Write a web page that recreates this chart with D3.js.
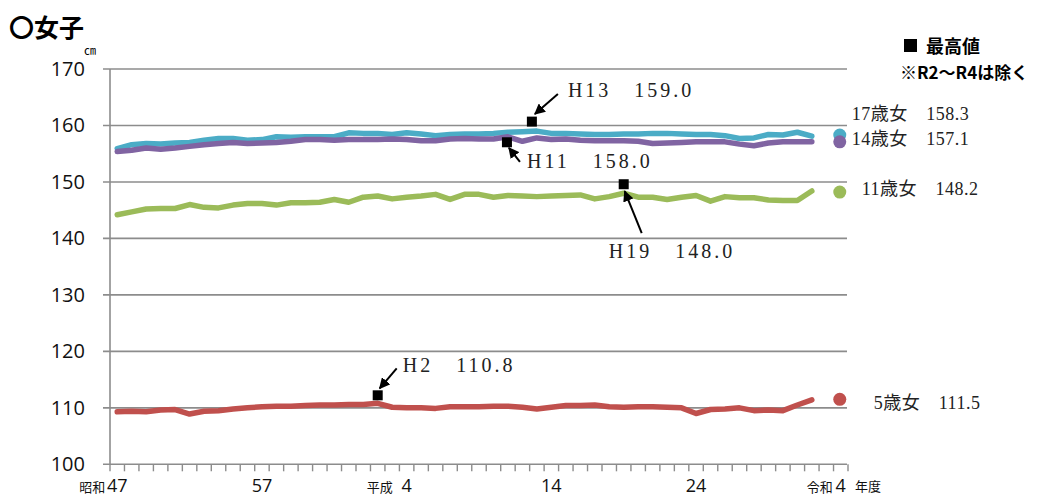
<!DOCTYPE html>
<html>
<head>
<meta charset="utf-8">
<script src="https://cdn.jsdelivr.net/npm/d3@7"></script>
<style>
  body { margin: 0; background: #fff; }
  svg { display: block; }
</style>
</head>
<body>
<svg id="chart" width="1038" height="499"></svg>
<script>
// fiscal years on the category axis (S47 .. R4)
const years = [1972,1973,1974,1975,1976,1977,1978,1979,1980,1981,
               1982,1983,1984,1985,1986,1987,1988,1989,1990,1991,
               1992,1993,1994,1995,1996,1997,1998,1999,2000,2001,
               2002,2003,2004,2005,2006,2007,2008,2009,2010,2011,
               2012,2013,2014,2015,2016,2017,2018,2019,2020,2021,2022];

// line data, S47 (1972) .. R2 (2020)
const girls17 = [155.9,156.6,156.8,156.7,156.9,157.0,157.4,157.7,157.7,157.4,
                 157.5,158.0,157.9,158.0,158.0,158.0,158.7,158.6,158.6,158.4,
                 158.7,158.5,158.2,158.4,158.5,158.5,158.6,158.8,158.9,159.0,
                 158.6,158.6,158.5,158.4,158.4,158.5,158.5,158.6,158.6,158.5,
                 158.4,158.4,158.2,157.7,157.8,158.4,158.3,158.8,158.1];
const girls14 = [155.4,155.6,156.0,155.8,156.0,156.3,156.6,156.8,157.0,156.8,
                 156.9,157.0,157.2,157.5,157.5,157.4,157.5,157.5,157.5,157.6,
                 157.5,157.3,157.3,157.6,157.7,157.6,157.6,158.0,157.2,157.8,
                 157.5,157.6,157.4,157.3,157.3,157.3,157.2,156.8,156.9,157.0,
                 157.1,157.1,157.1,156.7,156.4,156.9,157.1,157.1,157.1];
const girls11 = [144.2,144.7,145.2,145.3,145.3,146.0,145.5,145.4,145.9,146.2,
                 146.2,145.9,146.3,146.3,146.4,146.9,146.4,147.3,147.5,147.0,
                 147.3,147.5,147.8,146.9,147.8,147.8,147.3,147.6,147.5,147.4,
                 147.5,147.6,147.7,147.0,147.4,148.0,147.3,147.3,146.9,147.3,
                 147.6,146.6,147.4,147.2,147.2,146.8,146.7,146.7,148.4];
const girls5  = [109.3,109.4,109.3,109.6,109.7,108.9,109.4,109.5,109.8,110.0,
                 110.2,110.3,110.3,110.4,110.5,110.5,110.6,110.6,110.8,110.1,
                 110.0,110.0,109.9,110.2,110.2,110.2,110.3,110.3,110.1,109.8,
                 110.1,110.4,110.4,110.5,110.2,110.1,110.2,110.2,110.1,110.0,
                 109.0,109.7,109.8,110.0,109.5,109.6,109.5,110.5,111.4];

// R4 (2022) values shown as dots
const latestYear = 2022;
const latest = [158.3, 157.1, 148.2, 111.5];

const seriesNames = ['17歳女', '14歳女', '11歳女', '5歳女'];
const seriesColors = ['#4bacc6', '#8064a2', '#9bbb59', '#c0504d'];
const seriesData = [girls17, girls14, girls11, girls5];

const yTicks = [100, 110, 120, 130, 140, 150, 160, 170];
const xTickLabels = [
  {year: 1972, era: '昭和', num: '47'},
  {year: 1982, era: '',     num: '57'},
  {year: 1992, era: '平成', num: '4'},
  {year: 2002, era: '',     num: '14'},
  {year: 2012, era: '',     num: '24'},
  {year: 2022, era: '令和', num: '4'}
];

// highest values (series index, year, label)
const peaks = [
  {s: 0, year: 2001, label: 'H13　159.0'},
  {s: 1, year: 1999, label: 'H11　158.0'},
  {s: 2, year: 2007, label: 'H19　148.0'},
  {s: 3, year: 1990, label: 'H2　110.8'}
];

// ---------------------------------------------------------------
const svg = d3.select('#chart');
const plotL = 110, plotR = 848, plotT = 69, plotB = 464.3;

const x = d3.scaleBand().domain(years).range([plotL, plotR]).padding(0);
const xc = yr => x(yr) + x.bandwidth() / 2;
const y = d3.scaleLinear().domain([100, 170]).range([plotB, plotT]);
const grey = '#8c8c8c';

// grid
svg.append('g').selectAll('line').data(yTicks).join('line')
  .attr('x1', plotL - 7).attr('x2', plotR - 1)
  .attr('y1', d => y(d)).attr('y2', d => y(d))
  .attr('stroke', grey).attr('stroke-width', 1.6);

svg.append('line')
  .attr('x1', plotL).attr('x2', plotL).attr('y1', plotT).attr('y2', plotB)
  .attr('stroke', grey).attr('stroke-width', 1.6);

// y labels
svg.append('g').selectAll('text').data(yTicks).join('text')
  .attr('x', 85).attr('y', d => y(d) + 7)
  .attr('text-anchor', 'end')
  .style('font-family', '"Open Sans", sans-serif')
  .style('font-size', '20px').attr('fill', '#111')
  .text(d => d);

// x ticks at category boundaries
const bounds = years.map(d => x(d)).concat([plotR]);
svg.append('g').selectAll('line').data(bounds).join('line')
  .attr('x1', d => d).attr('x2', d => d)
  .attr('y1', plotB).attr('y2', plotB + 7)
  .attr('stroke', grey).attr('stroke-width', 1.4);

// x labels (kept just inside the bottom edge)
const xl = svg.append('g');
xTickLabels.forEach(t => {
  xl.append('text')
    .attr('x', xc(t.year)).attr('y', 492)
    .attr('text-anchor', 'middle')
    .style('font-family', '"Open Sans", sans-serif')
    .style('font-size', '18px').attr('fill', '#111')
    .text(t.num);
  if (t.era) {
    xl.append('text')
      .attr('x', xc(t.year) - (t.num.length > 1 ? 12 : 8) - (t.era === '平成' ? 6 : 0))
      .attr('y', 492)
      .attr('text-anchor', 'end')
      .style('font-family', '"Noto Sans CJK JP", sans-serif')
      .style('font-size', '13px').attr('fill', '#111')
      .text(t.era);
  }
});
xl.append('text')
  .attr('x', plotR + 7).attr('y', 491)
  .style('font-family', '"Noto Sans CJK JP", sans-serif')
  .style('font-size', '13px').attr('fill', '#111')
  .text('年度');

// lines
const lineYears = years.slice(0, girls17.length);
const line = d3.line().x((d, i) => xc(lineYears[i])).y(d => y(d));
svg.append('g').selectAll('path').data(seriesData).join('path')
  .attr('d', d => line(d))
  .attr('fill', 'none')
  .attr('stroke', (d, i) => seriesColors[i])
  .attr('stroke-width', 5.5)
  .attr('stroke-linejoin', 'round')
  .attr('stroke-linecap', 'round');

// R4 dots
svg.append('g').selectAll('circle').data(latest).join('circle')
  .attr('cx', xc(latestYear) - 1)
  .attr('cy', d => y(d))
  .attr('r', 6.5)
  .attr('fill', (d, i) => seriesColors[i]);

// right labels
const rightLabelOffset = [[11, -15], [11, 3], [21, 3], [33, 10]];
svg.append('g').selectAll('text').data(latest).join('text')
  .attr('x', (d, i) => xc(latestYear) + rightLabelOffset[i][0])
  .attr('y', (d, i) => y(d) + rightLabelOffset[i][1])
  .attr('xml:space', 'preserve')
  .style('font-family', '"Liberation Serif", "Noto Sans CJK JP", serif')
  .style('font-size', '18px').style('letter-spacing', '0.5px').attr('fill', '#222')
  .text((d, i) => `${seriesNames[i]}　${d.toFixed(1)}`);

// peak markers + arrows
const defs = svg.append('defs');
defs.append('marker').attr('id', 'ah')
  .attr('viewBox', '0 0 10 10').attr('refX', 9).attr('refY', 5)
  .attr('markerWidth', 5.5).attr('markerHeight', 5.5)
  .attr('orient', 'auto')
  .append('path').attr('d', 'M0,0 L10,5 L0,10 Z').attr('fill', '#000');

// offsets from the data point: marker, arrow tail, arrow tip, label
const peakLayout = [
  {m: [-5, -9.5], a0: [21, -37], a1: [-2, -17], t: [31, -34]},
  {m: [-1, 5.5],  a0: [12, 25],  a1: [1, 11],   t: [19, 31]},
  {m: [0, -9],    a0: [18, 40],  a1: [1, -2],   t: [-15, 65]},
  {m: [0, -8],    a0: [19, -35], a1: [2, -15],  t: [25, -31]}
];
const pg = svg.append('g');
peaks.forEach((p, k) => {
  const px = xc(p.year), py = y(seriesData[p.s][years.indexOf(p.year)]);
  const L = peakLayout[k];
  pg.append('rect')
    .attr('x', px + L.m[0] - 5).attr('y', py + L.m[1] - 5)
    .attr('width', 10).attr('height', 10).attr('fill', '#000');
  pg.append('line')
    .attr('x1', px + L.a0[0]).attr('y1', py + L.a0[1])
    .attr('x2', px + L.a1[0]).attr('y2', py + L.a1[1])
    .attr('stroke', '#000').attr('stroke-width', 2)
    .attr('marker-end', 'url(#ah)');
  pg.append('text')
    .attr('x', px + L.t[0]).attr('y', py + L.t[1])
    .attr('xml:space', 'preserve')
    .style('font-family', '"Liberation Serif", serif')
    .style('font-size', '20px').style('letter-spacing', '3px')
    .attr('fill', '#222')
    .text(p.label);
});

// title, unit, legend note
svg.append('text').attr('x', 9).attr('y', 37)
  .style('font-family', '"Noto Sans CJK JP", sans-serif')
  .style('font-size', '25px').style('font-weight', 'bold')
  .text('〇女子');
svg.append('text').attr('x', 84).attr('y', 55)
  .style('font-family', '"Noto Sans CJK JP", sans-serif')
  .style('font-size', '12px')
  .text('㎝');
svg.append('rect').attr('x', 904).attr('y', 39).attr('width', 13).attr('height', 13).attr('fill', '#000');
svg.append('text').attr('x', 926).attr('y', 53)
  .style('font-family', '"Noto Sans CJK JP", sans-serif')
  .style('font-size', '18px').style('font-weight', 'bold')
  .text('最高値');
svg.append('text').attr('x', 900).attr('y', 79)
  .style('font-family', '"Noto Sans CJK JP", sans-serif')
  .style('font-size', '17px').style('font-weight', 'bold')
  .text('※R2～R4は除く');
</script>
</body>
</html>
